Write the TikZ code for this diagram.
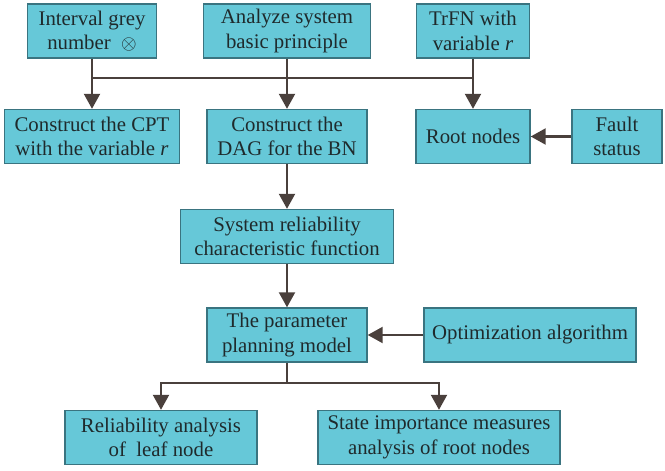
\documentclass[tikz,border=0pt]{standalone}
\usepackage{fontspec}
\setmainfont{Liberation Serif}
\usetikzlibrary{positioning,arrows.meta}
\definecolor{boxfill}{HTML}{66C8D8}
\definecolor{boxline}{HTML}{3A7480}
\definecolor{linkcol}{HTML}{4A403C}
\definecolor{txtcol}{HTML}{1F2A2C}

\begin{document}
\begin{tikzpicture}[x=0.5pt, y=-0.5pt, >={Triangle[length=7.5pt,width=8pt]},
    box/.style={draw=boxline, line width=0.7pt, fill=boxfill, text=txtcol,
      align=center, inner sep=0pt, minimum height=27pt,
      font=\fontsize{10.4}{12.2}\selectfont},
    link/.style={draw=linkcol, line width=1.1pt},
    arr/.style={link, ->}]

        \useasboundingbox (0,0) rectangle (665,471);

        % inputs
        \node[box, minimum width=64.5pt] (grey) at (92,31) {Interval grey\\number \ $\otimes$};
        \node[box, minimum width=83.5pt] (analyze) at (287,31) {Analyze system\\basic principle};
        \node[box, minimum width=56.5pt] (trfn) at (473,31) {TrFN with\\variable \textit{r}};

        % second row
        \node[box, minimum width=87.5pt] (cpt) at (92,136.5) {Construct the CPT\\with the variable \textit{r}};
        \node[box, minimum width=80pt] (dag) at (287,136.5) {Construct the\\DAG for the BN};
        \node[box, minimum width=57pt] (root) at (473,136.5) {Root nodes};
        \node[box, minimum width=45pt] (fault) at (617,136.5) {Fault\\status};

        % model
        \node[box, minimum width=106.5pt] (sysrel) at (287,236.5) {System reliability\\characteristic function};
        \node[box, minimum width=80pt] (param) at (287,335) {The parameter\\planning model};
        \node[box, minimum width=106pt] (optim) at (530,335) {Optimization algorithm};

        % results
        \node[box, minimum width=96pt] (leaf) at (161,437.5) {Reliability analysis\\of \ leaf node};
        \node[box, minimum width=121pt] (rootimp) at (439,437.5) {State importance measures\\analysis of root nodes};

        \coordinate (busy) at (0,78);
        \coordinate (splity) at (0,383);

        % top bus
        \draw[link] (grey.south) -- (grey.south |- busy) -- (trfn.south |- busy);
        \draw[arr] (grey.south |- busy) -- (cpt.north);
        \draw[arr] (analyze) -- (dag);
        \draw[arr] (trfn) -- (root);
        \draw[arr] (fault) -- (root);

        % main chain
        \draw[arr] (dag) -- (sysrel);
        \draw[arr] (sysrel) -- (param);
        \draw[arr] (optim) -- (param);

        % split to results
        \draw[link] (param.south) -- (param.south |- splity);
        \draw[arr] (param.south |- splity) -| (leaf.north);
        \draw[arr] (param.south |- splity) -| (rootimp.north);

    \end{tikzpicture}
\end{document}
